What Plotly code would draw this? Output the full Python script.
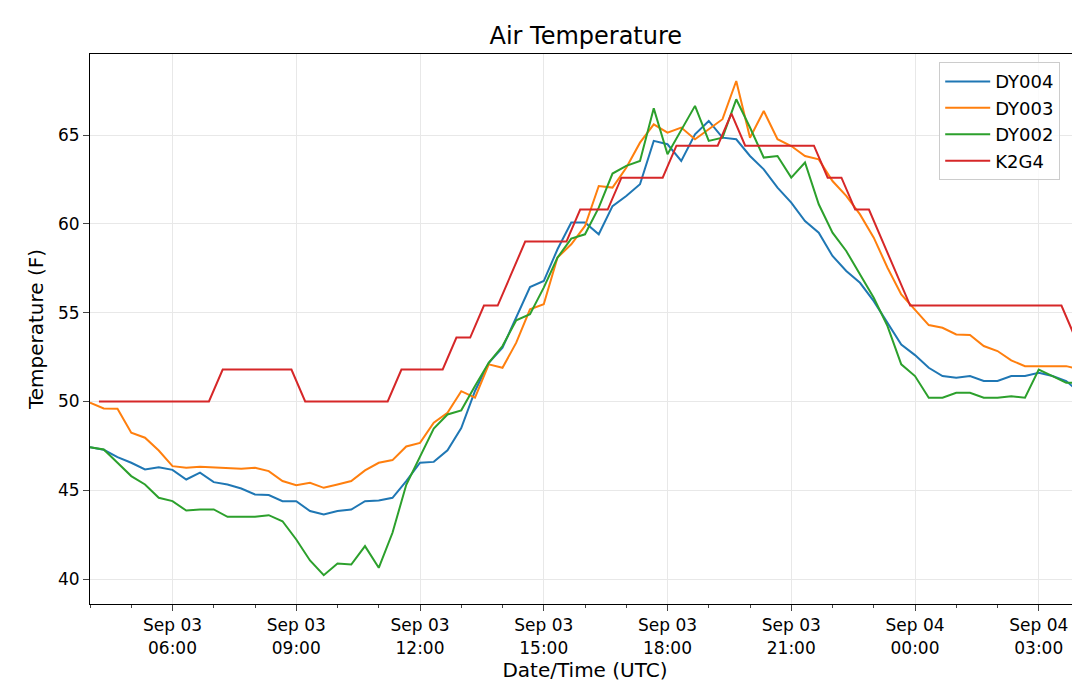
import plotly.graph_objects as go
import pandas as pd

times = pd.date_range("2023-09-03 04:00", "2023-09-04 04:00", freq="20min")

dy004 = [47.43,47.28,46.87,46.55,46.17,46.3,46.15,45.61,45.99,45.46,45.33,45.1,44.77,44.73,44.39,44.39,43.83,43.64,43.83,43.92,44.39,44.43,44.58,45.52,46.55,46.6,47.25,48.5,
         50.59,52.18,53.03,54.72,56.44,56.78,58.57,60.07,60.07,59.41,61.0,61.57,62.23,64.67,64.48,63.54,65.04,65.79,64.85,64.76,63.82,63.07,62.04,61.19,60.16,59.5,58.19,57.35,
         56.68,55.65,54.43,53.21,52.61,51.9,51.43,51.34,51.43,51.15,51.15,51.43,51.43,51.62,51.43,51.15,50.49]
dy003 = [49.93,49.61,49.59,48.24,47.96,47.24,46.36,46.27,46.32,46.27,46.23,46.21,46.27,46.08,45.52,45.29,45.42,45.14,45.33,45.52,46.12,46.55,46.7,47.47,47.67,48.8,49.36,50.58,
         50.21,52.09,51.9,53.31,55.19,55.47,58.1,58.85,59.88,62.13,62.04,63.16,64.57,65.6,65.13,65.42,64.76,65.32,65.89,68.04,64.85,66.35,64.76,64.38,63.82,63.63,62.41,61.57,
         60.53,59.22,57.53,56.03,55.18,54.3,54.15,53.77,53.74,53.12,52.84,52.31,51.99,51.99,51.99,51.99,51.8]
dy002 = [47.43,47.3,46.55,45.8,45.33,44.58,44.39,43.86,43.92,43.92,43.51,43.51,43.51,43.6,43.26,42.23,41.05,40.22,40.88,40.82,41.86,40.64,42.61,45.31,46.87,48.48,49.27,49.5,
         50.87,52.18,53.12,54.57,54.91,56.41,58.1,59.17,59.41,60.91,62.83,63.26,63.54,66.5,63.92,65.32,66.64,64.67,64.85,67.01,65.42,63.73,63.82,62.6,63.45,61.1,59.5,58.47,
         57.16,55.84,54.24,52.09,51.43,50.21,50.21,50.49,50.49,50.21,50.21,50.3,50.21,51.8,51.43,51.05,51.05]

k2g4_times = ["2023-09-03 04:13","2023-09-03 06:53","2023-09-03 07:13","2023-09-03 08:53","2023-09-03 09:13",
              "2023-09-03 11:13","2023-09-03 11:33","2023-09-03 12:33","2023-09-03 12:53","2023-09-03 13:13",
              "2023-09-03 13:33","2023-09-03 13:53","2023-09-03 14:33","2023-09-03 15:33","2023-09-03 15:53",
              "2023-09-03 16:33","2023-09-03 16:53","2023-09-03 17:53","2023-09-03 18:13","2023-09-03 19:13",
              "2023-09-03 19:33","2023-09-03 19:53","2023-09-03 21:33","2023-09-03 21:53","2023-09-03 22:13",
              "2023-09-03 22:33","2023-09-03 22:53","2023-09-03 23:53","2023-09-04 03:33","2023-09-04 03:53"]
k2g4 = [50,50,51.8,51.8,50,50,51.8,51.8,53.6,53.6,55.4,55.4,59,59,60.8,60.8,62.6,62.6,64.4,64.4,66.2,64.4,64.4,62.6,62.6,60.8,60.8,55.4,55.4,53.6]

fig = go.Figure()
for name, y, c in [("DY004", dy004, "#1f77b4"), ("DY003", dy003, "#ff7f0e"), ("DY002", dy002, "#2ca02c")]:
    fig.add_trace(go.Scatter(x=times, y=y, name=name, mode="lines", line=dict(color=c, width=2)))
fig.add_trace(go.Scatter(x=pd.to_datetime(k2g4_times), y=k2g4, name="K2G4", mode="lines", line=dict(color="#d62728", width=2)))

fig.update_layout(
    width=1080, height=695, plot_bgcolor="white", paper_bgcolor="white",
    margin=dict(l=82, r=8, t=46, b=99, autoexpand=False),
    font=dict(family="DejaVu Sans", size=17, color="black"),
    title=dict(text="Air Temperature", x=0.535, xanchor="center", y=0.972, yanchor="top", font=dict(size=24)),
    legend=dict(x=0.98, y=0.985, xanchor="right", yanchor="top", bordercolor="#cccccc", borderwidth=1,
                bgcolor="rgba(255,255,255,0.8)", font=dict(size=18), itemwidth=45, tracegroupgap=4),
    xaxis=dict(range=["2023-09-03 04:00", "2023-09-04 04:00"], tickvals=pd.date_range("2023-09-03 06:00", periods=8, freq="3h"),
               tickformat="%b %d<br>%H:%M", showgrid=True, gridcolor="#e8e8e8", showline=True, linecolor="black", mirror=True,
               ticks="outside", ticklen=6, minor=dict(dtick=3600000, ticks="outside", ticklen=3, showgrid=False),
               title=dict(text="Date/Time (UTC)", font=dict(size=20), standoff=6), zeroline=False, automargin=False),
    yaxis=dict(range=[38.6, 69.56], tickvals=[40,45,50,55,60,65], showgrid=True, gridcolor="#e8e8e8", showline=True,
               linecolor="black", mirror=True, ticks="outside", ticklen=6, zeroline=False, automargin=False,
               title=dict(text="Temperature (F)", font=dict(size=20), standoff=8)),
)
fig.write_html("out.html")
